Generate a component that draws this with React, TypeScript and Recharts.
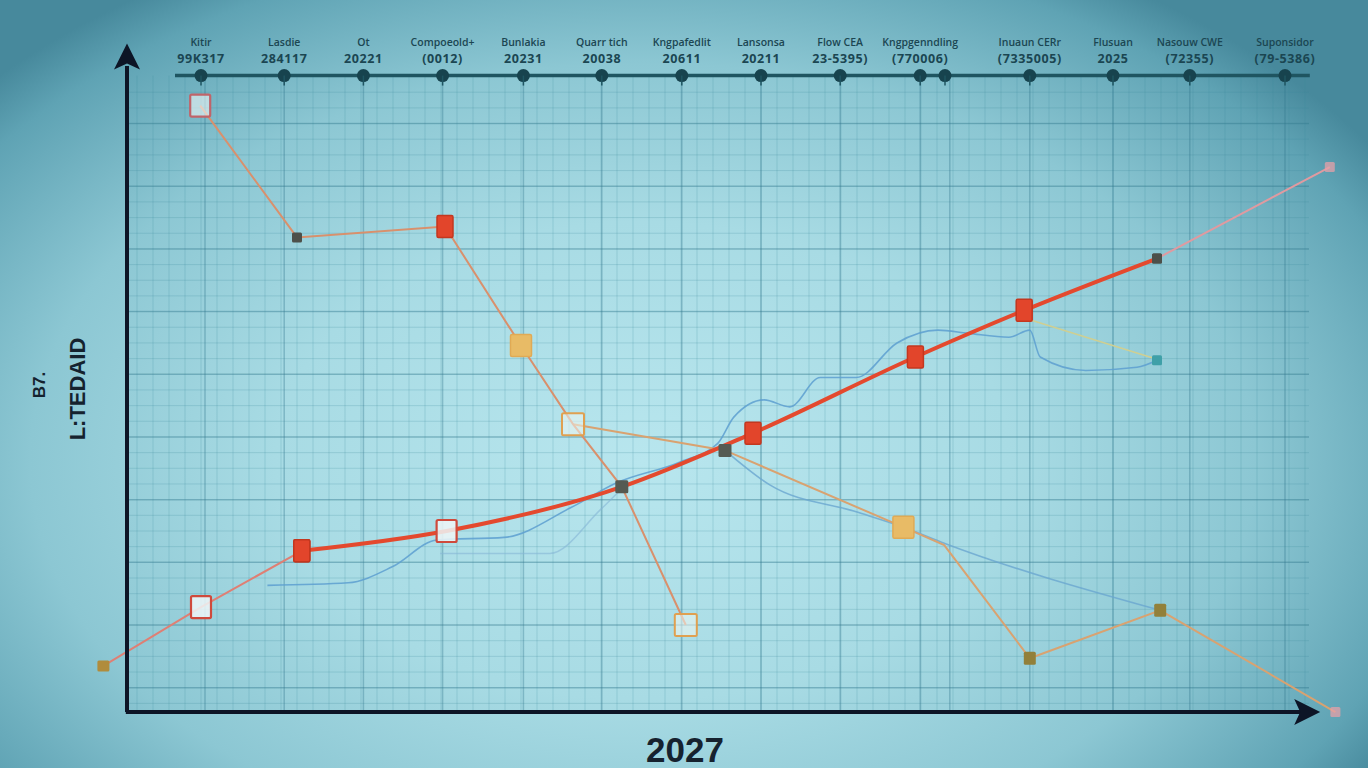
import React from "react";
import { ComposedChart, Line, Scatter, XAxis, YAxis, ReferenceLine, ReferenceDot } from "recharts";

// x = period index, y = index points (0 sits on the black baseline)
const riseX = [-0.22, 1.0, 2.26, 4.07, 6.26, 7.9, 9.93, 11.29, 12.95, 15.11];
const riseY = [7.2, 16.4, 25.2, 28.3, 35.2, 43.6, 55.5, 62.8, 70.9, 85.2];
const riseMarks = ["tan", "openRed", "red", "openRed", "dark", "red", "red", "red", "darkSmall", "pink"];

const fallX = [0.99, 2.2, 4.05, 5.0, 5.65, 6.26, 7.06];
const fallY = [94.8, 74.2, 75.9, 57.3, 45, 35.2, 13.6];
const fallMarks = ["openRose", "darkSmall", "red", "yellow", "openYellow", "none", "openYellow"];

const slideX = [5.65, 7.55, 9.78, 10.29, 11.36, 12.99, 15.18];
const slideY = [45, 40.9, 28.9, 26.1, 8.4, 15.9, 0];
const slideMarks = ["none", "dark", "yellow", "none", "olive", "olive", "pink"];

const waveX = [1.83, 2.84, 3.39, 3.95, 4.79, 5.63, 6.19, 6.99, 7.46, 7.66, 8.04, 8.36, 8.74, 9.19, 9.7, 10.21, 10.59, 11.1, 11.36, 11.49, 12.06, 12.7, 12.95];
const waveY = [19.8, 20.2, 22.7, 26.9, 27.3, 32.0, 35.8, 39.1, 42.0, 46.1, 48.8, 47.7, 52.3, 52.3, 57.7, 59.7, 59.2, 58.6, 59.7, 55.5, 53.4, 53.9, 55.0];

const lowBlueX = [7.55, 8.11, 9.19, 9.78, 10.29, 12.99];
const lowBlueY = [40.9, 35.5, 31.3, 28.9, 26.4, 15.9];

const faintBlueX = [3.99, 5.36, 5.99, 6.24];
const faintBlueY = [24.8, 24.8, 31.6, 34.7];

const paleX = [11.29, 12.99];
const paleY = [61.6, 55.0];

// top timeline
const tickX = [1.0, 2.04, 3.03, 4.02, 5.03, 6.01, 7.01, 8.0, 8.99, 9.99, 10.3, 11.36, 12.4, 13.36, 14.55];
const tickTop = ["Kitir", "Lasdie", "Ot", "Compoeold+", "Bunlakia", "Quarr tich", "Kngpafedlit", "Lansonsa", "Flow CEA", "Kngpgenndling", "", "Inuaun CERr", "Flusuan", "Nasouw CWE", "Suponsidor"];
const tickBottom = ["99K317", "284117", "20221", "(0012)", "20231", "20038", "20611", "20211", "23-5395)", "(770006)", "", "(7335005)", "2025", "(72355)", "(79-5386)"];
const timelineEnds = [0.675, 14.86];
const timelineLevel = 99.5;

const zip = (xs: number[], ys: number[]) => xs.map((x, i) => ({ x, y: ys[i] }));

const rise = zip(riseX, riseY);
const timeline = tickX.map((x, i) => ({ x, y: timelineLevel, top: tickTop[i], bottom: tickBottom[i] }));

const majorV = [1.05, 2.04, 3.03, 4.02, 5.03, 6.01, 7.01, 8.0, 8.99, 9.99, 10.36, 11.36, 12.4, 13.36, 14.55];
const minorV: number[] = [];
for (let v = 0.2; v < 14.85; v += 0.2) minorV.push(+v.toFixed(2));
const majorH: number[] = [];
for (let v = 3.8; v < 99; v += 9.8) majorH.push(+v.toFixed(2));
const minorH: number[] = [];
for (let v = 1.35; v < 99; v += 2.45) minorH.push(+v.toFixed(2));

function Marker({ cx, cy, kind }: { cx: number; cy: number; kind: string }) {
  if (cx == null || cy == null || kind === "none") return <g />;
  const box = (w: number, h: number, fill: string, stroke = "none", sw = 0, op = 1) => (
    <rect x={cx - w / 2} y={cy - h / 2} width={w} height={h} fill={fill} stroke={stroke} strokeWidth={sw} opacity={op} rx={1.5} />
  );
  switch (kind) {
    case "openRed":
      return box(20, 22, "rgba(238,246,247,0.85)", "#cf4a3c", 2.2);
    case "openRose":
      return box(20, 22, "rgba(238,246,247,0.6)", "#c0646a", 2.2);
    case "red":
      return box(16, 22, "#e2452b", "#c3371f", 1.5);
    case "tan":
      return box(12, 11, "#b08c3c");
    case "dark":
      return box(13, 13, "#555a52");
    case "darkSmall":
      return box(10, 10, "#4d504a");
    case "yellow":
      return box(21, 22, "#e8bb66", "#e0aa55", 1.5);
    case "openYellow":
      return box(22, 22, "rgba(238,245,240,0.55)", "#e0a050", 2);
    case "olive":
      return box(12, 13, "#92803a");
    case "pink":
      return box(10, 10, "#e6a0a8", "none", 0, 0.75);
    default:
      return box(10, 10, "#3fa0a8");
  }
}

const dots = (kinds: string[], offset = 0) => (p: any) => (
  <Marker key={`m-${offset}-${p.index}`} cx={p.cx} cy={p.cy} kind={kinds[p.index + offset]} />
);

const tealEnd = (p: any) => (
  <Marker key={`t-${p.index}`} cx={p.cx} cy={p.cy} kind={p.index === waveX.length - 1 ? "teal" : "none"} />
);

function TimelineTick(p: any) {
  const { cx, cy, payload } = p;
  return (
    <g>
      <circle cx={cx} cy={cy} r={6.5} fill="#17434e" />
      <line x1={cx} y1={cy} x2={cx} y2={cy + 10} stroke="#1f5561" strokeWidth={1.5} />
      {payload.top ? (
        <text x={cx} y={cy - 30} textAnchor="middle" fontSize={10.5} fontWeight={600} fill="#1b4652" fontFamily="Open Sans">
          {payload.top}
        </text>
      ) : null}
      {payload.bottom ? (
        <text x={cx} y={cy - 13} textAnchor="middle" fontSize={12.5} fontWeight={700} fill="#1b4652" fontFamily="Open Sans" letterSpacing={0.6}>
          {payload.bottom}
        </text>
      ) : null}
    </g>
  );
}

const upArrow = (p: any) => (
  <path d={`M${p.cx},${p.cy} L${p.cx - 13},${p.cy + 26} L${p.cx},${p.cy + 20} L${p.cx + 13},${p.cy + 26} Z`} fill="#0d1526" />
);
const rightArrow = (p: any) => (
  <path d={`M${p.cx},${p.cy} L${p.cx - 26},${p.cy - 13} L${p.cx - 20},${p.cy} L${p.cx - 26},${p.cy + 13} Z`} fill="#0d1526" />
);

export default function App() {
  return (
    <div
      style={{
        position: "absolute",
        left: 0,
        top: 0,
        width: 1368,
        height: 768,
        overflow: "hidden",
        background:
          "radial-gradient(ellipse 64% 74% at 47% 60%, #b8e6ee 0%, #a8dbe4 42%, #8cc7d3 70%, #5fa3b4 92%, #47899c 100%)",
        fontFamily: "Open Sans, sans-serif",
      }}
    >
      <ComposedChart width={1368} height={768} margin={{ top: 2, right: 7, bottom: 24, left: 81 }}>
        <XAxis type="number" dataKey="x" domain={[-0.5, 15.5]} hide allowDataOverflow />
        <YAxis type="number" dataKey="y" domain={[-5, 111]} hide allowDataOverflow />

        {minorV.map((v) => (
          <ReferenceLine key={`mv${v}`} segment={[{ x: v, y: 0 }, { x: v, y: timelineLevel }]} stroke="rgba(60,135,155,0.22)" strokeWidth={1} />
        ))}
        {minorH.map((v) => (
          <ReferenceLine key={`mh${v}`} segment={[{ x: 0.1, y: v }, { x: 14.85, y: v }]} stroke="rgba(60,135,155,0.22)" strokeWidth={1} />
        ))}
        {majorV.map((v) => (
          <ReferenceLine key={`Mv${v}`} segment={[{ x: v, y: 0 }, { x: v, y: timelineLevel }]} stroke="rgba(50,118,140,0.36)" strokeWidth={1.5} />
        ))}
        {majorH.map((v) => (
          <ReferenceLine key={`Mh${v}`} segment={[{ x: 0.1, y: v }, { x: 14.85, y: v }]} stroke="rgba(50,118,140,0.32)" strokeWidth={1.5} />
        ))}

        <Line data={zip(faintBlueX, faintBlueY)} dataKey="y" type="monotone" stroke="#86b6d6" strokeWidth={1.5} strokeOpacity={0.6} dot={false} activeDot={false} isAnimationActive={false} />
        <Line data={zip(waveX, waveY)} dataKey="y" type="monotone" stroke="#5d9fd0" strokeWidth={1.6} strokeOpacity={0.85} dot={tealEnd} activeDot={false} isAnimationActive={false} />
        <Line data={zip(lowBlueX, lowBlueY)} dataKey="y" type="monotone" stroke="#6aa6cf" strokeWidth={1.6} strokeOpacity={0.8} dot={false} activeDot={false} isAnimationActive={false} />
        <Line data={zip(paleX, paleY)} dataKey="y" type="linear" stroke="#cfcf92" strokeWidth={1.6} dot={false} activeDot={false} isAnimationActive={false} />

        <Line data={zip(slideX, slideY)} dataKey="y" type="linear" stroke="#d9a270" strokeWidth={2} dot={dots(slideMarks)} activeDot={false} isAnimationActive={false} />
        <Line data={zip(fallX, fallY)} dataKey="y" type="linear" stroke="#d9906c" strokeWidth={2} dot={dots(fallMarks)} activeDot={false} isAnimationActive={false} />

        <Line data={rise.slice(0, 3)} dataKey="y" type="linear" stroke="#df7f74" strokeWidth={2} dot={dots(riseMarks, 0)} activeDot={false} isAnimationActive={false} />
        <Line data={rise.slice(8, 10)} dataKey="y" type="linear" stroke="#e09aa0" strokeWidth={2} dot={dots(riseMarks, 8)} activeDot={false} isAnimationActive={false} />
        <Line data={rise.slice(2, 9)} dataKey="y" type="monotone" stroke="#e4492e" strokeWidth={4} dot={dots(riseMarks, 2)} activeDot={false} isAnimationActive={false} />

        <Line data={timelineEnds.map((x) => ({ x, y: timelineLevel }))} dataKey="y" type="linear" stroke="#1f5561" strokeWidth={3.5} dot={false} activeDot={false} isAnimationActive={false} />
        <Scatter data={timeline} dataKey="y" shape={TimelineTick} isAnimationActive={false} />

        <ReferenceLine segment={[{ x: 0.075, y: 0 }, { x: 0.075, y: 101 }]} stroke="#0d1526" strokeWidth={4} />
        <ReferenceLine segment={[{ x: 0.06, y: 0 }, { x: 14.8, y: 0 }]} stroke="#0d1526" strokeWidth={4} />
        <ReferenceDot x={0.075} y={104.5} r={1} shape={upArrow} />
        <ReferenceDot x={14.99} y={0} r={1} shape={rightArrow} />
      </ComposedChart>

      <div
        style={{
          position: "absolute",
          left: 39,
          top: 385,
          transform: "translate(-50%, -50%) rotate(-90deg)",
          fontSize: 17,
          fontWeight: 700,
          lineHeight: 1,
          color: "#15222e",
          whiteSpace: "nowrap",
          fontFamily: "Liberation Sans, sans-serif",
        }}
      >
        B7.
      </div>
      <div
        style={{
          position: "absolute",
          left: 78,
          top: 389,
          transform: "translate(-50%, -50%) rotate(-90deg)",
          fontSize: 22,
          fontWeight: 700,
          lineHeight: 1,
          color: "#15222e",
          whiteSpace: "nowrap",
          fontFamily: "Liberation Sans Narrow, Liberation Sans, sans-serif",
        }}
      >
        L:TEDAID
      </div>
      <div
        style={{
          position: "absolute",
          left: 685,
          top: 749,
          transform: "translate(-50%, -50%)",
          fontSize: 35,
          fontWeight: 700,
          lineHeight: 1,
          color: "#16222f",
          whiteSpace: "nowrap",
          fontFamily: "Liberation Sans, sans-serif",
        }}
      >
        2027
      </div>
    </div>
  );
}
